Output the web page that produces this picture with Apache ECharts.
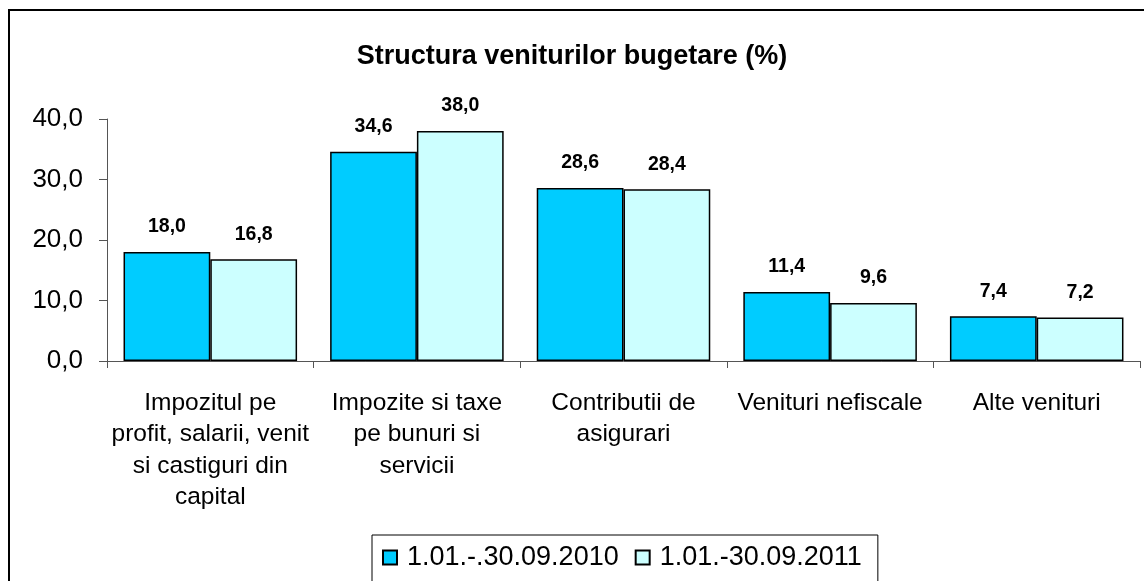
<!DOCTYPE html>
<html>
<head>
<meta charset="utf-8">
<script src="https://cdn.jsdelivr.net/npm/echarts@6/dist/echarts.min.js"></script>
<style>
  html, body { margin: 0; padding: 0; background: #fff; }
  #chart { width: 1144px; height: 581px; }
</style>
</head>
<body>
<div id="chart"></div>
<script>
var categories = [
  'Impozitul pe\nprofit, salarii, venit\nsi castiguri din\ncapital',
  'Impozite si taxe\npe bunuri si\nservicii',
  'Contributii de\nasigurari',
  'Venituri nefiscale',
  'Alte venituri'
];
var seriesNames = ['1.01.-.30.09.2010', '1.01.-30.09.2011'];
var values2010 = [18.0, 34.6, 28.6, 11.4, 7.4];
var values2011 = [16.8, 38.0, 28.4, 9.6, 7.2];
var yTicks = [0, 10, 20, 30, 40];

var font = 'Arial, "Liberation Sans", sans-serif';
function comma(v) { return Number(v).toFixed(1).replace('.', ','); }

var chart = echarts.init(document.getElementById('chart'));

function barSeries(name, data, color) {
  return {
    name: name,
    type: 'bar',
    data: data,
    barGap: 0,
    barCategoryGap: '16%',
    itemStyle: { color: color, borderColor: '#000', borderWidth: 1.5 },
    label: {
      show: true,
      position: 'top',
      distance: 15,
      color: '#000',
      fontFamily: font,
      fontWeight: 'bold',
      fontSize: 19.5,
      formatter: function (p) { return comma(p.value); }
    }
  };
}

var option = {
  animation: false,
  backgroundColor: '#fff',
  title: {
    text: 'Structura veniturilor bugetare (%)',
    left: 'center',
    top: 38,
    textStyle: { fontFamily: font, fontWeight: 'bold', fontSize: 27, color: '#000' }
  },
  graphic: [{
    type: 'rect',
    shape: { x: 9, y: 10, width: 1200, height: 700 },
    style: { fill: null, stroke: '#000', lineWidth: 2 },
    silent: true
  }],
  grid: { left: 107, right: 4, top: 119, bottom: 220 },
  legend: {
    data: seriesNames,
    left: 372,
    top: 535,
    icon: 'rect',
    itemWidth: 14,
    itemHeight: 14,
    itemGap: 16,
    padding: [9, 16, 12, 10],
    borderColor: '#000',
    borderWidth: 1,
    textStyle: { fontFamily: font, fontSize: 27, color: '#000', padding: [0, 0, 0, 5] }
  },
  xAxis: {
    type: 'category',
    data: categories,
    axisLine: { lineStyle: { color: '#555', width: 1 } },
    axisTick: { show: true, length: 7, lineStyle: { color: '#555' } },
    axisLabel: {
      interval: 0,
      margin: 26,
      color: '#000',
      fontFamily: font,
      fontSize: 24.5,
      lineHeight: 31.5,
      align: 'center'
    }
  },
  yAxis: {
    type: 'value',
    min: yTicks[0],
    max: yTicks[yTicks.length - 1],
    interval: 10,
    splitLine: { show: false },
    axisLine: { show: true, lineStyle: { color: '#555', width: 1 } },
    axisTick: { show: true, length: 8, lineStyle: { color: '#555' } },
    axisLabel: {
      margin: 24,
      color: '#000',
      fontFamily: font,
      fontSize: 26,
      formatter: function (v) { return comma(v); }
    }
  },
  series: [
    barSeries(seriesNames[0], values2010, '#00CCFF'),
    barSeries(seriesNames[1], values2011, '#CCFFFF')
  ]
};

chart.setOption(option);
</script>
</body>
</html>
